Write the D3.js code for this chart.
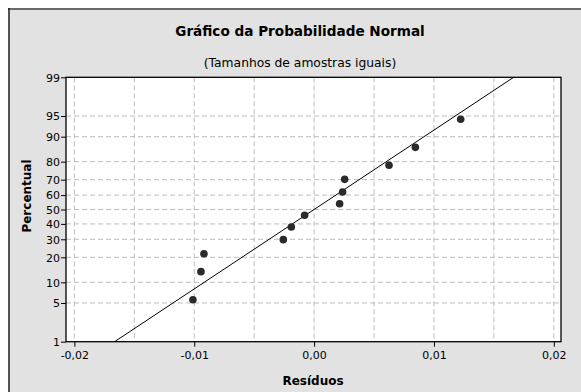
<!DOCTYPE html>
<html><head><meta charset="utf-8">
<script src="https://cdn.jsdelivr.net/npm/d3@7"></script>
<style>body{margin:0;background:#fff}svg{display:block}text{font-family:"DejaVu Sans",Verdana,sans-serif;fill:#000}</style>
</head><body><svg id="c" width="581" height="392"></svg>
<script>
const residuos = [-0.01011,-0.00944,-0.00919,-0.00257,-0.00190,-0.00079,0.00213,0.00238,0.00255,0.00625,0.00845,0.01223];
const percentual = [5.6,13.7,21.8,29.8,37.9,46.0,54.0,62.1,70.2,78.2,86.3,94.4];
const yTicks = [1,5,10,20,30,40,50,60,70,80,90,95,99];
const xTicks = [-0.02,-0.01,0,0.01,0.02];
const xGrid = [-0.02,-0.015,-0.01,-0.005,0,0.005,0.01,0.015,0.02];

function qnorm(p){
  const a=[-39.69683028665376,220.9460984245205,-275.9285104469687,138.357751867269,-30.66479806614716,2.506628277459239];
  const b=[-54.47609879822406,161.5858368580409,-155.6989798598866,66.80131188771972,-13.28068155288572];
  const c=[-0.007784894002430293,-0.3223964580411365,-2.400758277161838,-2.549732539343734,4.374664141464968,2.938163982698783];
  const d=[0.007784695709041462,0.3224671290700398,2.445134137142996,3.754408661907416];
  const pl=0.02425;let q,r;
  if(p<pl){q=Math.sqrt(-2*Math.log(p));return (((((c[0]*q+c[1])*q+c[2])*q+c[3])*q+c[4])*q+c[5])/((((d[0]*q+d[1])*q+d[2])*q+d[3])*q+1);}
  if(p>1-pl){q=Math.sqrt(-2*Math.log(1-p));return -(((((c[0]*q+c[1])*q+c[2])*q+c[3])*q+c[4])*q+c[5])/((((d[0]*q+d[1])*q+d[2])*q+d[3])*q+1);}
  q=p-0.5;r=q*q;return (((((a[0]*r+a[1])*r+a[2])*r+a[3])*r+a[4])*r+a[5])*q/(((((b[0]*r+b[1])*r+b[2])*r+b[3])*r+b[4])*r+1);
}

const svg = d3.select("#c");
// outer frame
svg.append("rect").attr("x",8).attr("y",8).attr("width",573).attr("height",384).attr("fill","#e2e2e2");
svg.append("line").attr("x1",8).attr("x2",581).attr("y1",9).attr("y2",9).attr("stroke","#6a6a6a").attr("stroke-width",2);
svg.append("line").attr("x1",9).attr("x2",9).attr("y1",8).attr("y2",392).attr("stroke","#222").attr("stroke-width",1.5);

const L=66,R=561,T=77.3,B=341.7;
const zmax = qnorm(0.99);
const x = d3.scaleLinear().domain([-0.0207,0.0206]).range([L,R]);
const y = d3.scaleLinear().domain([-zmax,zmax]).range([B,T]);
const yp = p => y(qnorm(p/100));

svg.append("rect").attr("x",L).attr("y",T).attr("width",R-L).attr("height",B-T).attr("fill","#fff");

const g = svg.append("g");
g.selectAll(".vg").data(xGrid).join("line").attr("x1",d=>x(d)).attr("x2",d=>x(d)).attr("y1",T).attr("y2",B)
  .attr("stroke","#bdbdbd").attr("stroke-dasharray","5,3");
g.selectAll(".hg").data(yTicks.filter(d=>d>1&&d<99)).join("line").attr("x1",L).attr("x2",R).attr("y1",d=>yp(d)).attr("y2",d=>yp(d))
  .attr("stroke","#bdbdbd").attr("stroke-dasharray","5,3");

// fitted line
const mu = d3.mean(residuos), sd = d3.deviation(residuos);
svg.append("defs").append("clipPath").attr("id","clip").append("rect").attr("x",L).attr("y",T).attr("width",R-L).attr("height",B-T);
svg.append("line").attr("clip-path","url(#clip)")
  .attr("x1",x(mu-zmax*sd)).attr("y1",y(-zmax)).attr("x2",x(mu+zmax*sd)).attr("y2",y(zmax))
  .attr("stroke","#000").attr("stroke-width",1);

svg.selectAll(".pt").data(residuos).join("circle").attr("cx",d=>x(d)).attr("cy",(d,i)=>yp(percentual[i])).attr("r",3.8).attr("fill","#2b2b2b");

// frame of plot
svg.append("rect").attr("x",L).attr("y",T).attr("width",R-L).attr("height",B-T).attr("fill","none").attr("stroke","#000").attr("stroke-width",1.3);

const xa = svg.append("g").attr("transform",`translate(0,${B})`)
  .call(d3.axisBottom(x).tickValues(xTicks).tickSize(5).tickFormat(d=>d3.format(".2f")(d).replace(".",",").replace("−","-")));
const ya = svg.append("g").attr("transform",`translate(${L},0)`)
  .call(d3.axisLeft(y).tickValues(yTicks.map(p=>qnorm(p/100))).tickSize(5).tickFormat((d,i)=>yTicks[i]));
[xa,ya].forEach(a=>{a.select(".domain").remove();a.selectAll("line").attr("stroke","#000");a.selectAll("text").attr("font-size",11).attr("fill","#000").style("font-family","'DejaVu Sans',sans-serif");});
xa.selectAll("text").attr("dy","0.95em").attr("y",7);
ya.selectAll("text").attr("x",-6).attr("dy","0.35em");

svg.append("text").attr("x",300).attr("y",36).attr("text-anchor","middle").attr("font-weight","bold").attr("font-size",13.6).text("Gráfico da Probabilidade Normal");
svg.append("text").attr("x",300).attr("y",67).attr("text-anchor","middle").attr("font-size",12.3).text("(Tamanhos de amostras iguais)");
svg.append("text").attr("x",313).attr("y",385).attr("text-anchor","middle").attr("font-weight","bold").attr("font-size",12).text("Resíduos");
svg.append("text").attr("transform","translate(31,196) rotate(-90)").attr("text-anchor","middle").attr("font-weight","bold").attr("font-size",12).text("Percentual");
</script></body></html>
